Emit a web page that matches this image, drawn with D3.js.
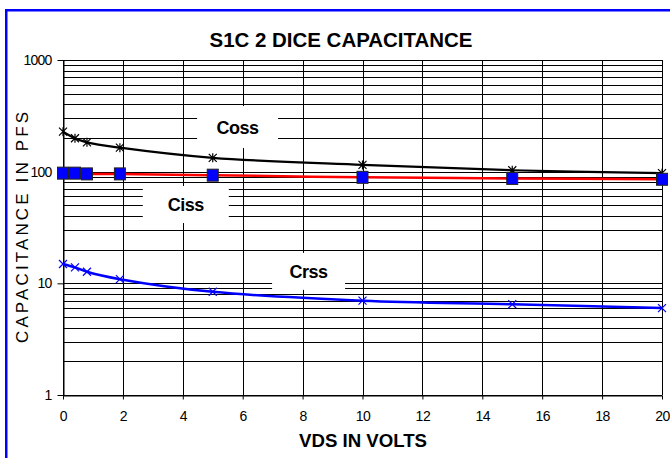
<!DOCTYPE html>
<html><head><meta charset="utf-8">
<script src="https://cdn.jsdelivr.net/npm/d3@7/dist/d3.min.js"></script>
<style>
html,body{margin:0;padding:0;background:#fff;}
svg{display:block;font-family:"Liberation Sans",Arial,sans-serif;}
</style></head>
<body>
<svg id="chart" width="670" height="458"></svg>
<script>
// ---- data ----
const vds = [0, 0.4, 0.8, 1.9, 5, 10, 15, 20];
const coss = [228, 199, 183, 164, 133, 115, 103, 97];
const ciss = [97, 97, 95.5, 95.5, 93, 89, 87, 85.5];
const crss = [14.9, 13.9, 12.7, 10.9, 8.4, 7.0, 6.5, 6.0];
const xTicks = [0, 2, 4, 6, 8, 10, 12, 14, 16, 18, 20];
const yTicks = [1, 10, 100, 1000];
const title = "S1C 2 DICE CAPACITANCE";
const xTitle = "VDS IN VOLTS";
const yTitle = "CAPACITANCE IN PFS";
const labelNames = ["Coss", "Ciss", "Crss"];
const labelX = [5.83, 4.1, 8.2];
const labelY = [251, 50.8, 12.8];

const svg = d3.select("#chart");
const L = 63, R = 662, T = 60, B = 395;
const x = d3.scaleLinear().domain([0, 20]).range([L, R]);
const y = d3.scaleLog().domain([1, 1000]).range([B, T]);

// frame
svg.append("rect").attr("x", 6.25).attr("y", 10.25).attr("width", 720).attr("height", 500)
  .attr("fill", "none").attr("stroke", "#0000FF").attr("stroke-width", 2.5);

// grid
const minor = [];
for (let k = 0; k < 3; k++) for (let m = 1; m <= 9; m++) minor.push(m * Math.pow(10, k));
minor.push(1000);
const grid = svg.append("g").attr("shape-rendering", "crispEdges");
grid.selectAll("line.h").data(minor).join("line").attr("class", "h")
  .attr("x1", L).attr("x2", R).attr("y1", d => Math.round(y(d)) + 0.5).attr("y2", d => Math.round(y(d)) + 0.5)
  .attr("stroke", "#000").attr("stroke-width", 1);
grid.selectAll("line.v").data(xTicks).join("line").attr("class", "v")
  .attr("y1", T).attr("y2", B).attr("x1", d => Math.round(x(d)) + 0.5).attr("x2", d => Math.round(x(d)) + 0.5)
  .attr("stroke", "#000").attr("stroke-width", 1);

// label boxes (white) over grid
const boxW = {Coss: 81, Ciss: 86, Crss: 73};
const boxH = {Coss: 42, Ciss: 37, Crss: 37};
const lab = svg.append("g");
labelNames.forEach((name, i) => {
  const cx = x(labelX[i]), cy = y(labelY[i]);
  lab.append("rect").attr("x", cx - boxW[name] / 2).attr("y", cy - boxH[name] / 2)
    .attr("width", boxW[name]).attr("height", boxH[name]).attr("fill", "#fff");
  lab.append("text").attr("x", cx).attr("y", cy).attr("dy", "0.36em").attr("text-anchor", "middle")
    .attr("font-size", 18).attr("font-weight", "bold").attr("letter-spacing", -0.5).text(name);
});

// axes
const xAxis = d3.axisBottom(x).tickValues(xTicks).tickSize(4).tickSizeOuter(0).tickFormat(d3.format("d"));
const gx = svg.append("g").attr("transform", `translate(0,${B + 0.5})`).call(xAxis);
gx.select(".domain").attr("stroke", "#000");
gx.selectAll("text").attr("font-size", 14).attr("fill", "#000").attr("dy", "1.35em").attr("letter-spacing", -0.5).attr("font-family", "Liberation Sans, Arial");
const yAxis = d3.axisLeft(y).tickValues(yTicks).tickSize(6).tickSizeOuter(0).tickFormat(d3.format("d"));
const gy = svg.append("g").attr("transform", `translate(${L + 0.5},0)`).call(yAxis);
gy.selectAll("text").attr("font-size", 14).attr("fill", "#000").attr("x", -12).attr("letter-spacing", -0.8).attr("font-family", "Liberation Sans, Arial");

// lines
const line = vals => d3.line().x((d, i) => x(vds[i])).y(d => y(d)).curve(d3.curveCatmullRom.alpha(0.5))(vals);
svg.append("path").attr("d", line(coss)).attr("fill", "none").attr("stroke", "#000").attr("stroke-width", 2.2);
svg.append("path").attr("d", line(ciss)).attr("fill", "none").attr("stroke", "#FF0000").attr("stroke-width", 2.5);
svg.append("path").attr("d", line(crss)).attr("fill", "none").attr("stroke", "#0000FF").attr("stroke-width", 2.5);

// markers
const star = svg.append("g");
coss.forEach((v, i) => {
  const cx = x(vds[i]), cy = y(v), s = 4;
  star.append("path").attr("d", `M${cx - s},${cy - s}L${cx + s},${cy + s}M${cx - s},${cy + s}L${cx + s},${cy - s}M${cx},${cy - s - 0.5}L${cx},${cy + s + 0.5}`)
    .attr("stroke", "#000").attr("stroke-width", 1.2);
});
const cr = svg.append("g");
crss.forEach((v, i) => {
  const cx = x(vds[i]), cy = y(v), s = 4;
  cr.append("path").attr("d", `M${cx - s},${cy - s}L${cx + s},${cy + s}M${cx - s},${cy + s}L${cx + s},${cy - s}`)
    .attr("stroke", "#0000FF").attr("stroke-width", 1.2);
});
svg.append("g").selectAll("rect").data(ciss).join("rect")
  .attr("x", (d, i) => x(vds[i]) - 5.5).attr("y", d => y(d) - 6).attr("width", 11).attr("height", 12)
  .attr("fill", "#0000FF").attr("stroke", "#222").attr("stroke-width", 1);

// titles
svg.append("text").attr("x", 341).attr("y", 47).attr("text-anchor", "middle")
  .attr("font-size", 20).attr("font-weight", "bold").attr("textLength", 263).attr("lengthAdjust", "spacingAndGlyphs").text(title);
svg.append("text").attr("x", 363).attr("y", 447).attr("text-anchor", "middle")
  .attr("font-size", 18).attr("font-weight", "bold").attr("textLength", 128).attr("lengthAdjust", "spacingAndGlyphs").text(xTitle);
svg.append("text").attr("transform", "translate(28,227.5) rotate(-90)").attr("text-anchor", "middle")
  .attr("font-size", 17).attr("textLength", 231).attr("lengthAdjust", "spacing").text(yTitle);
</script>
</body></html>
